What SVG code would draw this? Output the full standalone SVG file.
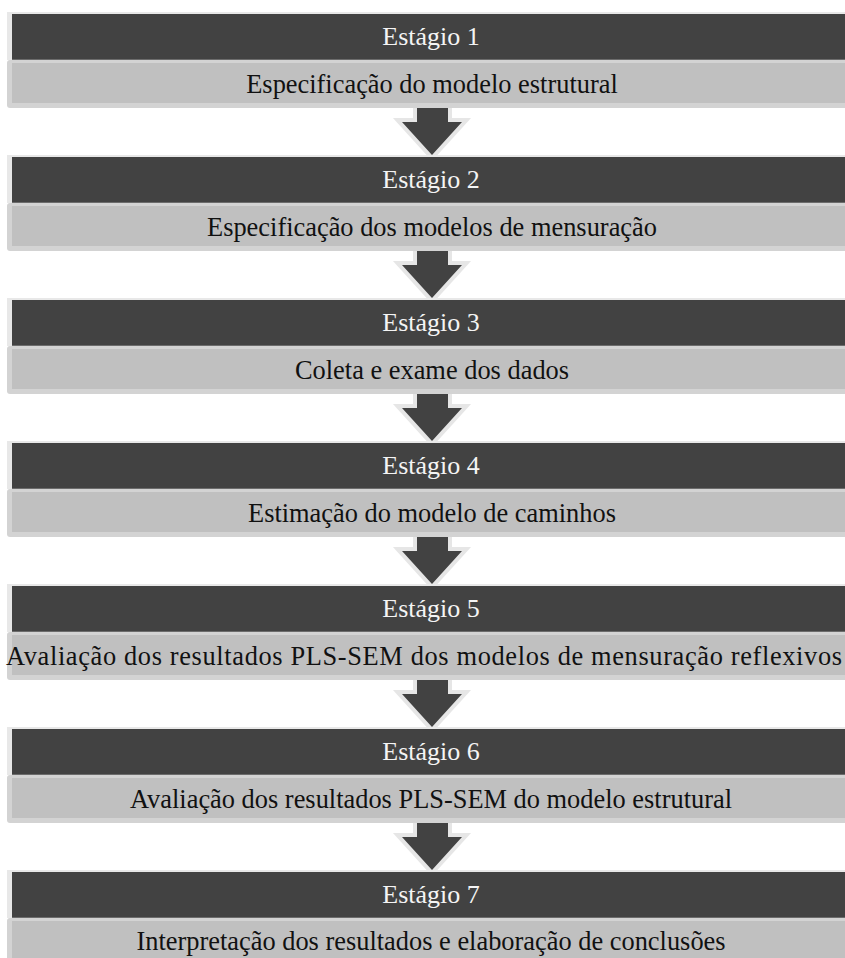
<svg xmlns="http://www.w3.org/2000/svg" width="845" height="958" viewBox="0 0 845 958">
  <style>
    .frame { fill: #e8e8e8; }
    .head { fill: #424242; }
    .rule { stroke: #6c6c6c; stroke-width: 1.2; }
    .bodyo { fill: #d3d3d3; }
    .body { fill: #c0c0c0; }
    .t { font-family: 'Liberation Serif', 'Times New Roman', serif; font-size: 26px; text-anchor: middle; }
    .th { fill: #f4f4f4; }
    .tb { fill: #111111; font-size: 26.4px; }
    .arrow { fill: #424242; stroke: #e6e6e6; stroke-width: 8; stroke-linejoin: miter; paint-order: stroke; }
  </style>
  <defs>
    <g id="stage-shape">
      <rect class="frame" x="7" y="-2" width="850" height="48"/>
      <rect class="head" x="12" y="0" width="850" height="46"/>
      <rect class="bodyo" x="7" y="46" width="850" height="48" rx="3"/>
      <rect class="body" x="12" y="49" width="850" height="40"/>
      <line class="rule" x1="12" y1="45.5" x2="850" y2="45.5"/>
    </g>
    <path id="down-arrow" d="M417,108 L448,108 L448,122 L462,122 L432,155 L402,122 L417,122 Z"/>
  </defs>

  <!-- connectors between the stages -->
  <g id="connectors">
    <use href="#down-arrow" class="arrow" transform="translate(0,0)"/>
    <use href="#down-arrow" class="arrow" transform="translate(0,143)"/>
    <use href="#down-arrow" class="arrow" transform="translate(0,286)"/>
    <use href="#down-arrow" class="arrow" transform="translate(0,429)"/>
    <use href="#down-arrow" class="arrow" transform="translate(0,572)"/>
    <use href="#down-arrow" class="arrow" transform="translate(0,715)"/>
  </g>

  <g id="stage1" transform="translate(0,14)">
    <use href="#stage-shape"/>
    <text class="t th" x="431" y="31">Estágio 1</text>
    <text class="t tb" x="432" y="79">Especificação do modelo estrutural</text>
  </g>
  <g id="stage2" transform="translate(0,157)">
    <use href="#stage-shape"/>
    <text class="t th" x="431" y="31">Estágio 2</text>
    <text class="t tb" x="432" y="79">Especificação dos modelos de mensuração</text>
  </g>
  <g id="stage3" transform="translate(0,300)">
    <use href="#stage-shape"/>
    <text class="t th" x="431" y="31">Estágio 3</text>
    <text class="t tb" x="432" y="79">Coleta e exame dos dados</text>
  </g>
  <g id="stage4" transform="translate(0,443)">
    <use href="#stage-shape"/>
    <text class="t th" x="431" y="31">Estágio 4</text>
    <text class="t tb" x="432" y="79">Estimação do modelo de caminhos</text>
  </g>
  <g id="stage5" transform="translate(0,586)">
    <use href="#stage-shape"/>
    <text class="t th" x="431" y="31">Estágio 5</text>
    <text class="t tb" x="424" y="79" textLength="836" lengthAdjust="spacing">Avaliação dos resultados PLS-SEM dos modelos de mensuração reflexivos</text>
  </g>
  <g id="stage6" transform="translate(0,729)">
    <use href="#stage-shape"/>
    <text class="t th" x="431" y="31">Estágio 6</text>
    <text class="t tb" x="431" y="79">Avaliação dos resultados PLS-SEM do modelo estrutural</text>
  </g>
  <g id="stage7" transform="translate(0,872)">
    <use href="#stage-shape"/>
    <text class="t th" x="431" y="31">Estágio 7</text>
    <text class="t tb" x="431" y="78">Interpretação dos resultados e elaboração de conclusões</text>
  </g>
</svg>
